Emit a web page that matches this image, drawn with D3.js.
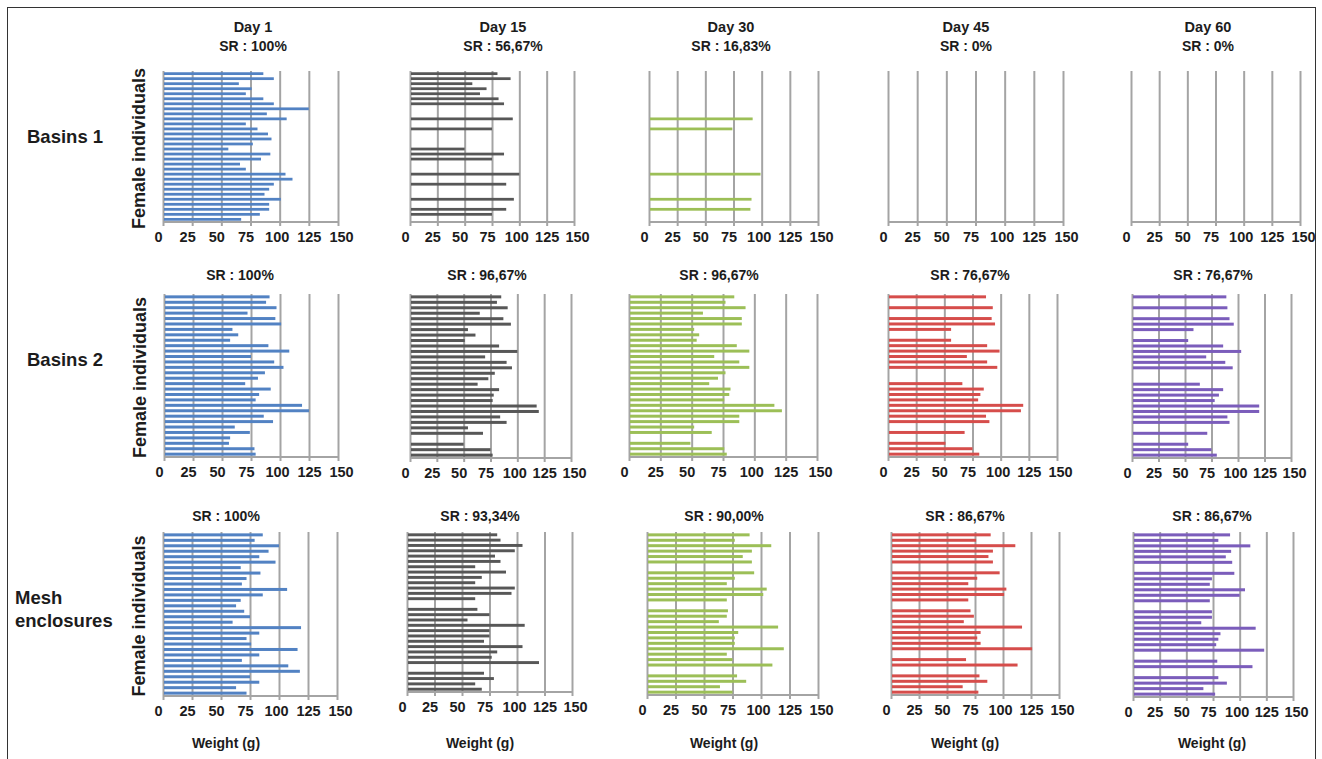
<!DOCTYPE html>
<html>
<head>
<meta charset="utf-8">
<script src="https://cdn.jsdelivr.net/npm/d3@7"></script>
<style>
  body { margin: 0; background: #fff; }
  svg text { font-family: "Liberation Sans", Arial, sans-serif; font-weight: bold; fill: #1c1c1c; }
</style>
</head>
<body>
<svg id="chart" width="1322" height="759"></svg>
<script>
// ---- data -------------------------------------------------------------
const treatments = ["Basins 1", "Basins 2", "Mesh enclosures"];
const days = ["Day 1", "Day 15", "Day 30", "Day 45", "Day 60"];
const survivalRates = [
  ["100%", "56,67%", "16,83%", "0%", "0%"],
  ["100%", "96,67%", "96,67%", "76,67%", "76,67%"],
  ["100%", "93,34%", "90,00%", "86,67%", "86,67%"]
];
const weightTicks = [0, 25, 50, 75, 100, 125, 150];
const seriesColors = ["#5282c3", "#575757", "#9cbf57", "#d64d4b", "#7b5dbb"];
const individuals = d3.range(1, 31);

// weight (g) of each of the 30 females; null = no longer alive
const basins1Day1  = [86, 95, 65, 76, 71, 86, 95, 125, 89, 106, 71, 81, 90, 93, 77, 56, 92, 84, 66, 71, 105, 111, 95, 91, 87, 101, 91, 91, 83, 67];
const basins1Day15 = [80, 92, 57, 70, 64, 81, 86, null, null, 94, null, 75, null, null, null, 50, 86, 75, null, null, 100, null, 88, null, null, 95, null, 88, 75, null];
const basins1Day30 = [null, null, null, null, null, null, null, null, null, 92, null, 74, null, null, null, null, null, null, null, null, 99, null, null, null, null, 91, null, 90, null, null];
const basins1Day45 = new Array(30).fill(null);
const basins1Day60 = new Array(30).fill(null);

const basins2Day1  = [91, 88, 97, 72, 96, 101, 59, 64, 57, 90, 108, 75, 95, 103, 87, 81, 70, 92, 82, 79, 119, 125, 86, 94, 61, 74, 57, 56, 78, 79];
const basins2Day15 = [85, 81, 91, 65, 87, 94, 54, 61, 51, 83, 100, 70, 90, 95, 79, 73, 63, 83, 78, 77, 118, 120, 84, 90, 54, 68, null, 50, 75, 77];
const basins2Day30 = [84, 77, 93, 59, 90, 90, 52, 56, 54, 86, 96, 68, 88, 96, 77, 71, 64, 81, 80, 76, 116, 122, 88, 88, 52, 66, null, 49, 76, 78];
const basins2Day45 = [87, null, 93, null, 92, 95, 56, null, 56, 88, 99, 70, 88, 97, null, null, 66, 85, 82, 80, 120, 118, 87, 90, null, 68, null, 51, 75, 81];
const basins2Day60 = [89, null, 90, null, 92, 96, 58, null, 53, 86, 103, 70, 88, 95, null, null, 64, 86, 82, 78, 120, 120, 90, 92, null, 71, null, 53, 75, 80];

const meshDay1  = [86, 79, 100, 91, 83, 97, 67, 84, 72, 68, 107, 86, 67, 63, 70, 75, 60, 119, 83, 72, 76, 116, 83, 68, 108, 118, 75, 83, 63, 72];
const meshDay15 = [82, 85, 105, 98, 80, 85, 62, 90, 68, 62, 98, 95, 62, null, 64, 75, 55, 107, 75, 75, 70, 105, 82, 77, 120, null, 70, 79, 62, 68];
const meshDay30 = [90, 77, 109, 92, 84, 92, null, 94, 77, 70, 105, 102, 70, null, 71, 70, 63, 115, 80, 77, 77, 120, 70, 75, 110, null, 79, 87, 64, 75];
const meshDay45 = [89, 76, 111, 91, 87, 91, null, 97, 77, 69, 103, 101, 69, null, 71, 74, 65, 117, 80, 77, 80, 126, null, 67, 113, null, 79, 86, 64, 78];
const meshDay60 = [91, 80, 110, 92, 87, 93, null, 95, 74, 72, 105, 100, 72, null, 74, 74, 64, 115, 82, 80, 78, 123, null, 79, 112, null, 80, 88, 66, 77];

const weights = [
  [basins1Day1, basins1Day15, basins1Day30, basins1Day45, basins1Day60],
  [basins2Day1, basins2Day15, basins2Day30, basins2Day45, basins2Day60],
  [meshDay1, meshDay15, meshDay30, meshDay45, meshDay60]
];

// ---- layout -----------------------------------------------------------
// plot frame of each small multiple: left/right pixel of the 0..150 g range,
// top of the plot and the axis line, centre of the title block
const frames = [
  [
    { x0: 163, x1: 338, top: 71, bottom: 222, tx: 253 },
    { x0: 410, x1: 574, top: 71, bottom: 222, tx: 503 },
    { x0: 649, x1: 818, top: 71, bottom: 222, tx: 731 },
    { x0: 888, x1: 1063, top: 71, bottom: 222, tx: 966 },
    { x0: 1131, x1: 1300, top: 71, bottom: 222, tx: 1208 }
  ],
  [
    { x0: 164, x1: 338, top: 294, bottom: 457, tx: 240 },
    { x0: 410, x1: 571, top: 294, bottom: 458, tx: 487 },
    { x0: 629, x1: 817, top: 294, bottom: 457, tx: 719 },
    { x0: 888, x1: 1057, top: 294, bottom: 457, tx: 970 },
    { x0: 1132, x1: 1291, top: 294, bottom: 458, tx: 1213 }
  ],
  [
    { x0: 163, x1: 337, top: 532, bottom: 696, tx: 226 },
    { x0: 407, x1: 572, top: 532, bottom: 692, tx: 480 },
    { x0: 647, x1: 818, top: 532, bottom: 695, tx: 724 },
    { x0: 891, x1: 1059, top: 532, bottom: 695, tx: 965 },
    { x0: 1133, x1: 1293, top: 532, bottom: 697, tx: 1212 }
  ]
];
const rowTitleTop = [32, 280, 521];

const svg = d3.select("#chart");

// outer frame
svg.append("rect")
  .attr("x", 7.5).attr("y", 7.5)
  .attr("width", 1308).attr("height", 770)
  .attr("fill", "none").attr("stroke", "#333").attr("stroke-width", 1);

// treatment labels on the left
const rowLabelY = [[143], [366], [604, 627]];
treatments.forEach((name, r) => {
  const lines = r === 2 ? ["Mesh", "enclosures"] : [name];
  lines.forEach((line, k) => {
    svg.append("text")
      .attr("x", r === 2 ? 15 : 27)
      .attr("y", rowLabelY[r][k])
      .attr("font-size", 18.5)
      .text(line);
  });
});

weights.forEach((row, r) => {
  row.forEach((values, c) => {
    const f = frames[r][c];
    const g = svg.append("g");
    const x = d3.scaleLinear().domain([0, 150]).range([f.x0, f.x1]);
    const y = d3.scaleBand().domain(individuals).range([f.top, f.bottom])
      .paddingInner(0.45).paddingOuter(0.25);

    // vertical grid lines + tick labels
    const axis = d3.axisBottom(x)
      .tickValues(weightTicks)
      .tickSize(f.bottom - f.top + 4)
      .tickPadding(6)
      .tickFormat(d3.format("d"));
    const ax = g.append("g")
      .attr("transform", `translate(0,${f.top})`)
      .call(axis);
    ax.select(".domain").remove();
    ax.selectAll(".tick line").attr("stroke", "#a4a4a4").attr("stroke-width", 2);
    ax.selectAll(".tick text")
      .attr("font-size", 14.5)
      .attr("fill", "#1c1c1c")
      .attr("dx", d => d < 100 ? -5 : (d - 125) * 0.12);

    // bottom axis line
    g.append("line")
      .attr("x1", x(0)).attr("x2", x(150))
      .attr("y1", f.bottom).attr("y2", f.bottom)
      .attr("stroke", "#a4a4a4").attr("stroke-width", 2);

    // one bar per living female
    g.selectAll("rect.bar")
      .data(individuals.map((id, i) => ({ id, w: values[i] })).filter(d => d.w != null))
      .join("rect")
      .attr("class", "bar")
      .attr("x", x(0) + 1)
      .attr("y", d => y(d.id))
      .attr("width", d => x(d.w) - x(0) - 1)
      .attr("height", y.bandwidth())
      .attr("fill", seriesColors[c]);

    // titles
    if (r === 0) {
      svg.append("text").attr("x", f.tx).attr("y", rowTitleTop[r])
        .attr("text-anchor", "middle").attr("font-size", 14.5).text(days[c]);
    }
    svg.append("text")
      .attr("x", f.tx)
      .attr("y", r === 0 ? rowTitleTop[r] + 19 : rowTitleTop[r])
      .attr("text-anchor", "middle").attr("font-size", 14)
      .text("SR : " + survivalRates[r][c]);

    // y axis title on the first column
    if (c === 0) {
      const cy = (f.top + f.bottom) / 2 + 2;
      svg.append("text")
        .attr("transform", `translate(${f.x0 - 18},${cy}) rotate(-90)`)
        .attr("text-anchor", "middle").attr("font-size", 18)
        .text("Female individuals");
    }
    // x axis title on the bottom row
    if (r === 2) {
      svg.append("text")
        .attr("x", f.tx).attr("y", 748)
        .attr("text-anchor", "middle").attr("font-size", 14)
        .text("Weight (g)");
    }
  });
});
</script>
</body>
</html>
